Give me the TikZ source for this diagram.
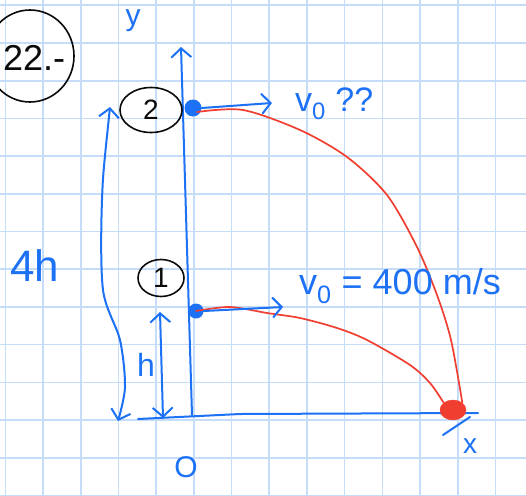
\documentclass[tikz,border=0pt]{standalone}
\usepackage{fontspec}
\setmainfont{Liberation Sans}
\usetikzlibrary{shapes.geometric, arrows.meta, positioning, calc}
\definecolor{SketchGrid}{RGB}{198, 221, 250}
\definecolor{SketchBlue}{RGB}{28, 113, 245}
\definecolor{SketchRed}{RGB}{240, 62, 48}
\definecolor{SketchInk}{RGB}{10, 10, 10}
\tikzset{
  ink/.style={draw=SketchBlue, line width=2pt, line cap=round, line join=round},
  orbit/.style={draw=SketchRed, line width=1.7pt, line cap=round},
  barb/.style={-{Straight Barb[length=9pt, width=20pt]}},
  dimarrow/.style={{Straight Barb[length=9pt, width=20pt]}-{Straight Barb[length=9pt, width=20pt]}},
  bullet/.style={circle, fill=SketchBlue, inner sep=0pt, minimum size=17pt},
  numtag/.style={ellipse, draw=SketchInk, line width=1.6pt, inner sep=0pt, text=SketchInk},
  handtext/.style={text=SketchBlue, inner sep=0pt}
}

\begin{document}
\begin{tikzpicture}[x=1pt,y=-1pt]
  \useasboundingbox (0,0) rectangle (526,495);
  \fill[white] (0,0) rectangle (526,495);
  % squared paper
  \foreach \k in {0,...,13} {
    \draw[SketchGrid, line width=1.6pt] ({5.3+37.7*\k},0) -- ++(0,495);
    \draw[SketchGrid, line width=1.6pt] (0,{5.3+37.7*\k}) -- ++(526,0);
  }
  % problem number
  \node[numtag, minimum width=88pt, minimum height=92pt] (probtag) at (30,56) {};
  \node[anchor=west, text=SketchInk, inner sep=0pt, font=\fontsize{36}{36}\selectfont] (probnum) at (3,58) {22.-};
  % axes
  \coordinate (O) at (192,415);
  \coordinate (ytip) at (181,47);
  \coordinate (xstart) at (138,419);
  \coordinate (xend) at (478,413);
  \draw[ink, barb] (O) -- (ytip);
  \draw[ink] (xstart) -- (240,414) -- (xend);
  \draw[ink] (443,435) -- (470,417);
  \node[handtext, font=\fontsize{30}{30}\selectfont] (ylab) at (133,21) {y};
  \node[handtext, font=\fontsize{28}{28}\selectfont] (xlab) at (470,446) {x};
  \node[handtext, font=\fontsize{30}{30}\selectfont] (olab) at (186,467) {O};
  % launch points
  \node[bullet] (p2) at (193,108) {};
  \node[bullet, minimum size=15pt] (p1) at (196,311) {};
  \node[ellipse, fill=SketchRed, draw=SketchRed, minimum width=26pt, minimum height=20pt, inner sep=0pt] (target) at (453,410) {};
  \node[numtag, minimum width=62pt, minimum height=45pt, font=\fontsize{28}{28}\selectfont] (tag2) at (151,110) {2};
  \node[numtag, minimum width=46pt, minimum height=37pt, font=\fontsize{28}{28}\selectfont] (tag1) at (161,278) {1};
  % trajectories
  \draw[orbit] plot[smooth] coordinates {(197,112) (243,110) (300,130) (347,157) (387,195) (417,247) (437,295) (451,340) (target.north east)};
  \draw[orbit] plot[smooth] coordinates {(p1) (230,307) (267,313) (300,318) (337,328) (367,340) (410,365) (430,383) (target.north west)};
  % initial speeds
  \coordinate (v2tip) at (272,103);
  \coordinate (v1tip) at (283,307);
  \draw[ink, barb] (p2.east) -- (v2tip);
  \draw[ink, barb] (p1.east) -- (v1tip);
  \node[handtext, anchor=west, font=\fontsize{34}{34}\selectfont] (v2lab) at (295,104) {v\textsubscript{0} ??};
  \node[handtext, anchor=west, font=\fontsize{36}{36}\selectfont] (v1lab) at (299,286) {v\textsubscript{0} = 400 m/s};
  % heights
  \coordinate (fourtop) at (110,107);
  \coordinate (fourbot) at (118,421);
  \coordinate (onetop) at (160,312);
  \coordinate (onebot) at (163,418);
  \draw[ink, dimarrow] plot[smooth] coordinates {(fourtop) (102,200) (103,290) (120,340) (125,387) (fourbot)};
  \draw[ink, dimarrow] (onebot) -- (onetop);
  \node[handtext, font=\fontsize{44}{44}\selectfont] (hfour) at (35,266) {4h};
  \node[handtext, font=\fontsize{32}{32}\selectfont] (hone) at (146,365) {h};
\end{tikzpicture}
\end{document}
